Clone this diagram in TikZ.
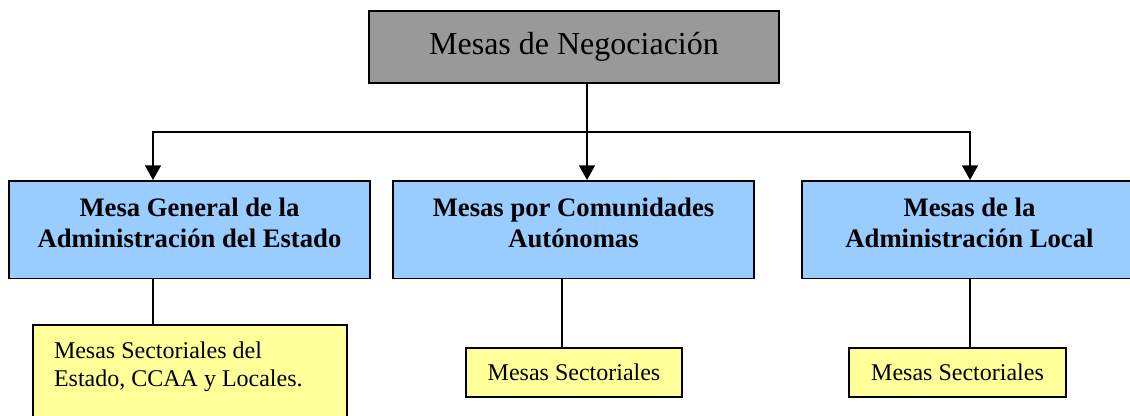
\documentclass[tikz,border=0pt]{standalone}
\usepackage{fontspec}
\setmainfont{Liberation Serif}
\usetikzlibrary{arrows.meta,calc}
\definecolor{mgray}{HTML}{999999}
\definecolor{mblue}{HTML}{99CCFF}
\definecolor{myellow}{HTML}{FFFF99}
\tikzset{
  topbox/.style={draw, line width=1.2pt, fill=mgray, minimum width=307.5pt, minimum height=54pt, font=\fontsize{24}{28}\selectfont},
  mesabox/.style={draw, line width=1.2pt, fill=mblue, anchor=north, inner xsep=4pt, inner ysep=12.75pt, align=flush center, text depth=33.75pt, font=\bfseries\fontsize{20}{23.25}\selectfont},
  sectorbox/.style={draw, line width=1.2pt, fill=myellow, font=\fontsize{18}{21.5}\selectfont},
  link/.style={line width=1.2pt},
  arr/.style={link, -{Triangle[width=12pt,length=11pt]}}
}

\begin{document}
\begin{tikzpicture}[x=0.75pt,y=-0.75pt]
\clip (0,0) rectangle (1130,416);
% top level
\node[topbox] (neg) at (574,47) {Mesas de Negociaci\'on};
% three tables
\node[mesabox, text width=262.75pt] (mgae) at (189.5,180) {Mesa General de la\\Administraci\'on del Estado};
\node[mesabox, text width=262.75pt] (mca) at (573.5,180) {Mesas por Comunidades\\Aut\'onomas};
\node[mesabox, text width=243.25pt] (mal) at (969.5,180) {Mesas de la\\Administraci\'on Local};
% sector tables
\node[sectorbox, anchor=north, inner xsep=15.75pt, inner ysep=12.5pt, text width=204pt, align=flush left, text depth=80pt] (ms1) at (190,324) {Mesas Sectoriales del\\Estado, CCAA y Locales.};
\node[sectorbox, minimum width=162pt, minimum height=36.75pt] (ms2) at (574,372.5) {Mesas Sectoriales};
\node[sectorbox, minimum width=162.75pt, minimum height=36.75pt] (ms3) at (957.5,372.5) {Mesas Sectoriales};
% connectors
\coordinate (hub) at (587,132);
\coordinate (jl) at (153,132);
\coordinate (jr) at (970,132);
\coordinate (jm) at (562,300);
\draw[arr] (neg.south -| hub) -- (hub |- mca.north);
\draw[arr] (hub) -- (jl) -- (jl |- mgae.north);
\draw[arr] (hub) -- (jr) -- (jr |- mal.north);
\draw[link] (jl |- mgae.south) -- (jl |- ms1.north);
\draw[link] (jm |- mca.south) -- (jm |- ms2.north);
\draw[link] (jr |- mal.south) -- (jr |- ms3.north);
\end{tikzpicture}
\end{document}
